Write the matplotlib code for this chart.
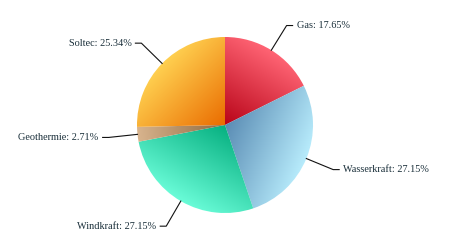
import numpy as np
import matplotlib
matplotlib.use("Agg")
import matplotlib.pyplot as plt
from matplotlib.patches import Wedge
from matplotlib.colors import to_rgb

# data
labels = ["Gas", "Wasserkraft", "Windkraft", "Geothermie", "Soltec"]
values = [17.65, 27.15, 27.15, 2.71, 25.34]
inner_colors = ["#b80418", "#5a8cb4", "#06b080", "#8e6a40", "#ea6c00"]
outer_colors = ["#ff6474", "#b8ecfc", "#6afcd8", "#d8b48e", "#ffd050"]

W, H = 450, 250
cx, cy, r = 225, 125, 88

fig = plt.figure(figsize=(4.5, 2.5), dpi=100)
ax = fig.add_axes([0, 0, 1, 1])
ax.set_xlim(0, W)
ax.set_ylim(H, 0)
ax.axis("off")

xx, yy = np.meshgrid(np.arange(W) + 0.5, np.arange(H) + 0.5)

total = sum(values)
start = 0.0
for lab, v, ci, co in zip(labels, values, inner_colors, outer_colors):
    frac = v / total
    a0 = start * 360
    a1 = (start + frac) * 360
    mid = np.radians((a0 + a1) / 2)
    start += frac

    # clockwise from 12 o'clock, y axis points down
    dx, dy = np.sin(mid), -np.cos(mid)
    t = ((xx - cx) * dx + (yy - cy) * dy) / r
    t = np.clip(t, 0, 1)[..., None]
    img = np.array(to_rgb(ci)) * (1 - t) + np.array(to_rgb(co)) * t

    w = Wedge((cx, cy), r, a0 - 90, a1 - 90, facecolor="none", edgecolor="none")
    ax.add_patch(w)
    im = ax.imshow(img, extent=(0, W, H, 0), interpolation="bilinear", zorder=1)
    im.set_clip_path(w)

    # connector and label
    ex, ey = cx + r * dx, cy + r * dy
    bx, by = cx + 117 * dx, cy + 117 * dy
    side = 1 if dx >= 0 else -1
    hx = bx + side * 6
    ax.plot([ex, bx, hx], [ey, by, by], color="#111111", lw=0.8, zorder=2)
    ax.text(hx + side * 4, by, f"{lab}: {v:.2f}%", ha="left" if side > 0 else "right",
            va="center", fontsize=7.4, family="Liberation Serif", color="#1a2f3a")

fig.savefig("out.png", dpi=100)
